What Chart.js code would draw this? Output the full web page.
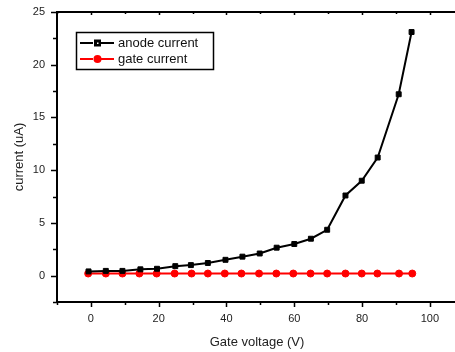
<!DOCTYPE html>
<html>
<head>
<meta charset="utf-8">
<script src="https://cdn.jsdelivr.net/npm/chart.js@4"></script>
<style>
  html, body { margin: 0; background: #fff; overflow: hidden; }
  #wrap { width: 455px; height: 352px; overflow: hidden; }
</style>
</head>
<body>
<div id="wrap"><canvas id="myChart" width="462" height="352"></canvas></div>
<script>
// data
const anodeX = [-0.7, 4.4, 9.3, 14.6, 19.5, 24.9, 29.5, 34.5, 39.7, 44.7, 49.8, 54.8, 60, 64.9, 69.7, 75.1, 79.9, 84.6, 90.8, 94.6];
const anodeY = [0.4, 0.45, 0.45, 0.6, 0.65, 0.9, 1.0, 1.2, 1.5, 1.8, 2.1, 2.65, 3.0, 3.5, 4.35, 7.6, 9.0, 11.2, 17.2, 23.1];
const gateX = [-0.8, 4.4, 9.3, 14.3, 19.4, 24.7, 29.7, 34.5, 39.5, 44.4, 49.6, 54.7, 59.7, 64.8, 69.7, 75.1, 79.9, 84.5, 90.9, 94.8];
const gateY = [0.2, 0.2, 0.2, 0.2, 0.2, 0.2, 0.2, 0.2, 0.2, 0.2, 0.2, 0.2, 0.2, 0.2, 0.2, 0.2, 0.2, 0.2, 0.2, 0.2];
const xTicks = [-10, 0, 10, 20, 30, 40, 50, 60, 70, 80, 90, 100];
const yTicks = [-2.5, 0, 2.5, 5, 7.5, 10, 12.5, 15, 17.5, 20, 22.5, 25];
const seriesNames = ['anode current', 'gate current'];

const FONT = "'Liberation Sans', Arial, sans-serif";

function toPoints(xs, ys) {
  return xs.map((x, i) => ({ x: x, y: ys[i] }));
}

// ticks, top spine and boxed legend, drawn like the original plot
const framePlugin = {
  id: 'frame',
  afterDraw(chart) {
    const ctx = chart.ctx;
    const a = chart.chartArea;
    const xs = chart.scales.x, ys = chart.scales.y;
    ctx.save();
    ctx.strokeStyle = '#000';
    ctx.lineWidth = 1.5;
    ctx.beginPath();
    xs.ticks.forEach(t => {
      const px = Math.round(xs.getPixelForValue(t.value)) + 0.5;
      const major = t.value % 20 === 0;
      ctx.moveTo(px, a.bottom);
      ctx.lineTo(px, a.bottom + (major ? 5 : 3));
      ctx.moveTo(px, a.top);
      ctx.lineTo(px, a.top + (major ? 3 : 2));
    });
    ys.ticks.forEach(t => {
      const py = Math.round(ys.getPixelForValue(t.value)) + 0.5;
      const major = t.value % 5 === 0;
      ctx.moveTo(a.left, py);
      ctx.lineTo(a.left - (major ? 6 : 4), py);
    });
    ctx.stroke();
    // top spine
    ctx.lineWidth = 2;
    ctx.beginPath();
    ctx.moveTo(a.left, a.top);
    ctx.lineTo(a.right, a.top);
    ctx.stroke();

    // legend box
    const bx = 76, by = 32, bw = 137, bh = 37;
    ctx.lineWidth = 1.5;
    ctx.strokeRect(bx + 0.5, by + 0.5, bw, bh);
    ctx.font = '13px ' + FONT;
    ctx.textBaseline = 'middle';
    chart.data.datasets.forEach((ds, i) => {
      const y = by + 11 + i * 16;
      ctx.strokeStyle = ds.borderColor;
      ctx.lineWidth = 2;
      ctx.beginPath();
      ctx.moveTo(80, y); ctx.lineTo(93, y);
      ctx.moveTo(101, y); ctx.lineTo(114, y);
      ctx.stroke();
      if (i === 0) {
        ctx.fillStyle = '#000';
        ctx.fillRect(94, y - 3.5, 7, 7);
        ctx.fillStyle = '#fff';
        ctx.fillRect(97, y - 0.5, 1.5, 1.5);
      } else {
        ctx.fillStyle = ds.borderColor;
        ctx.beginPath();
        ctx.arc(97.5, y, 4, 0, Math.PI * 2);
        ctx.fill();
      }
      ctx.fillStyle = '#111';
      ctx.fillText(ds.label, 118, y + 0.5);
    });
    ctx.restore();
  }
};

const config = {
  type: 'line',
  data: {
    datasets: [
      {
        label: seriesNames[0],
        data: toPoints(anodeX, anodeY),
        borderColor: '#000',
        borderWidth: 2,
        pointStyle: 'rect',
        pointRadius: 3.5,
        pointBackgroundColor: '#000',
        pointBorderColor: '#000',
        pointBorderWidth: 1,
        tension: 0,
        fill: false
      },
      {
        label: seriesNames[1],
        data: toPoints(gateX, gateY),
        borderColor: '#ff0000',
        borderWidth: 2,
        pointStyle: 'circle',
        pointRadius: 3.5,
        pointBackgroundColor: '#ff0000',
        pointBorderColor: '#ff0000',
        pointBorderWidth: 1,
        tension: 0,
        fill: false
      }
    ]
  },
  options: {
    responsive: false,
    animation: false,
    layout: { padding: { top: 12, right: 0, left: 0, bottom: 0 } },
    plugins: {
      legend: { display: false },
      tooltip: { enabled: false }
    },
    scales: {
      x: {
        type: 'linear',
        min: -10,
        max: 108,
        afterBuildTicks: s => { s.ticks = xTicks.map(v => ({ value: v })); },
        afterFit: s => { s.height = 50; s.paddingLeft = 0; s.paddingRight = 0; },
        grid: { display: false, drawTicks: false },
        border: { display: true, color: '#000', width: 2 },
        ticks: {
          autoSkip: false,
          maxRotation: 0,
          padding: 10,
          color: '#222',
          font: { family: FONT, size: 11 },
          callback: v => (v % 20 === 0 ? v : '')
        },
        title: {
          display: true,
          text: 'Gate voltage (V)',
          color: '#222',
          font: { family: FONT, size: 13 },
          padding: { top: 0, bottom: 2 }
        }
      },
      y: {
        type: 'linear',
        min: -2.5,
        max: 25,
        afterBuildTicks: s => { s.ticks = yTicks.map(v => ({ value: v })); },
        afterFit: s => { s.width = 57; s.paddingTop = 0; s.paddingBottom = 0; },
        grid: { display: false, drawTicks: false },
        border: { display: true, color: '#000', width: 2 },
        ticks: {
          autoSkip: false,
          padding: 12,
          color: '#222',
          font: { family: FONT, size: 11 },
          callback: v => (v % 5 === 0 ? v : '')
        },
        title: {
          display: true,
          text: 'current (uA)',
          color: '#222',
          font: { family: FONT, size: 13 },
          padding: { top: 12, bottom: 0 }
        }
      }
    }
  },
  plugins: [framePlugin]
};

const myChart = new Chart(document.getElementById('myChart'), config);
</script>
</body>
</html>
